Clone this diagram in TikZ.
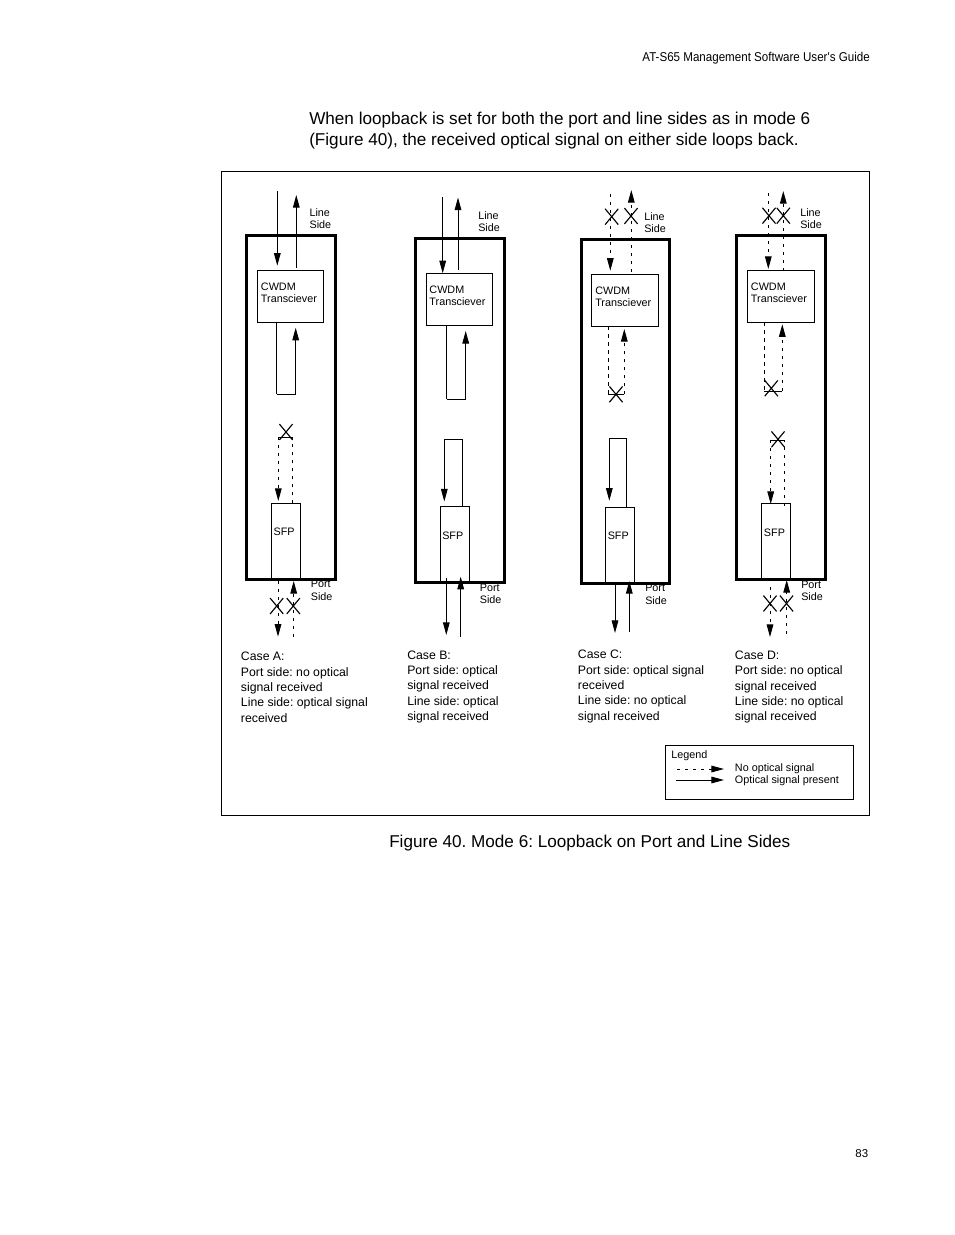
\documentclass[tikz,border=0pt]{standalone}
\usepackage{fontspec}
\setmainfont{Liberation Sans}
\newfontfamily\headfont[FakeStretch=0.905]{Liberation Sans}
\usetikzlibrary{arrows.meta, shapes.misc}
\frenchspacing

\begin{document}
\begin{tikzpicture}[x=0.75pt,y=-0.75pt]

% Define styles
\tikzstyle{shell}=[draw, line width=2.25pt, inner sep=0pt]
\tikzstyle{unit}=[draw, line width=0.7pt, inner sep=0pt]
\tikzstyle{frame}=[draw, line width=0.7pt, inner sep=0pt]
\tikzstyle{live}=[line width=0.7pt]
\tikzstyle{dead}=[line width=0.7pt, dash pattern=on 2.4pt off 3.6pt]
\tikzstyle{tip}=[-{Triangle[length=9.5pt,width=5pt]}]
\tikzstyle{blocked}=[cross out, draw, line width=0.85pt, inner sep=0pt, minimum width=9pt, minimum height=11pt]
\tikzstyle{tiny}=[inner sep=0pt, anchor=west, align=left, font=\fontsize{8.1}{9.4}\selectfont]
\tikzstyle{small}=[inner sep=0pt, anchor=west, align=left, font=\fontsize{9.2}{11.5}\selectfont]
\tikzstyle{body}=[inner sep=0pt, anchor=west, align=left, font=\fontsize{12.85}{15.9}\selectfont]

% Parameters
\def\px{0.75pt}

\useasboundingbox (0,0) rectangle (954,1235);

% Page text
\node[inner sep=0pt, anchor=east, font=\headfont\fontsize{9.6}{11}\selectfont] (header) at (870,58) {AT-S65 Management Software User's Guide};
\node[body] (intro) at (309,130.3) {When loopback is set for both the port and line sides as in mode 6\\(Figure 40), the received optical signal on either side loops back.};
\node[body] (caption) at (389,843) {Figure 40. Mode 6: Loopback on Port and Line Sides};
\node[inner sep=0pt, anchor=east, font=\fontsize{8.6}{11}\selectfont] (pageno) at (868.5,1154) {83};

% Outer frame and legend box
\foreach \nm/\xa/\ya/\xb/\yb in {outer/221.5/171.5/869.5/815.5, legend/665.3/745.3/853.7/799.3} {
  \node[frame, minimum width={(\xb-\xa)*\px}, minimum height={(\yb-\ya)*\px}] (\nm) at ({(\xa+\xb)/2},{(\ya+\yb)/2}) {};
}

% Case boxes
\foreach \nm/\xa/\ya/\xb/\yb in {A/246.7/235.5/335.4/579.3, B/415.3/238.3/504.4/582.3, C/581.3/239.3/669.7/583.3, D/736/235.5/825.7/579.3} {
  \node[shell, minimum width={(\xb-\xa)*\px}, minimum height={(\yb-\ya)*\px}] (shell\nm) at ({(\xa+\xb)/2},{(\ya+\yb)/2}) {};
}

% Transceivers
\foreach \nm/\xa/\ya/\xb/\yb/\tx/\ty in {A/257.3/270.3/323.7/322.3/260.7/292.7, B/426.3/273.3/492.7/325.3/429.2/295.7, C/591.3/274.3/658.7/326.3/595/296.7, D/747.3/270.3/814.3/322.3/750.7/292.7} {
  \node[unit, minimum width={(\xb-\xa)*\px}, minimum height={(\yb-\ya)*\px}] (cwdm\nm) at ({(\xa+\xb)/2},{(\ya+\yb)/2}) {};
  \node[tiny] (cwdmtext\nm) at (\tx,\ty) {CWDM\\Transciever};
}

% SFP modules
\foreach \nm/\xa/\ya/\xb/\yb/\tx/\ty in {A/271.3/503.3/300.7/579.3/273.3/532, B/440.3/506.3/469.3/582.3/442/535.5, C/605.3/507.3/634.3/583.3/607.5/535.5, D/761.3/503.3/790.3/579.3/763.7/532.5} {
  \node[unit, minimum width={(\xb-\xa)*\px}, minimum height={(\yb-\ya)*\px}] (sfp\nm) at ({(\xa+\xb)/2},{(\ya+\yb)/2}) {};
  \node[tiny] (sfptext\nm) at (\tx,\ty) {SFP};
}

% Side labels
\foreach \nm/\lx/\ly/\rx/\ry in {A/309.3/218.5/310.6/590.5, B/478/221.5/479.6/594, C/644/222.5/645/594.5, D/800/218.5/801/590.8} {
  \node[tiny] (linetext\nm) at (\lx,\ly) {Line\\Side};
  \node[tiny] (porttext\nm) at (\rx,\ry) {Port\\Side};
}

% Straight signals
\foreach \nm/\x/\ys/\ye/\sty in {
  Aa/277.3/191/265.7/live, Ab/296.3/267.7/195/live, Ac/278/581/636.7/dead, Ad/293.7/636.7/581/dead,
  Ba/442.7/197/273.3/live, Bb/458/270/197.5/live, Bc/446.3/578/635/live, Bd/460.7/636.7/576.7/live,
  Ca/610.3/194/270.7/dead, Cb/631.3/272/190/dead, Cc/615/583.3/633/live, Cd/629.3/631.7/581/live,
  Da/768.3/193/269/dead, Db/783.3/271/191/dead, Dc/770/586.7/637/dead, Dd/786.7/634/580/dead} {
  \coordinate (\nm s) at (\x,\ys);
  \coordinate (\nm e) at (\x,\ye);
  \draw[\sty, tip] (\nm s) -- (\nm e);
}

% Loops
\foreach \nm/\xs/\ys/\xe/\ye/\yc/\sty in {
  Aup/276.7/322.3/295.7/327.7/394.3/live, Alow/292.7/503.3/278.3/501/437/dead,
  Bup/446.7/325.3/465.7/331/399.3/live, Blow/462.7/506.3/444.3/501.5/439/live,
  Cup/608.3/326.3/624.3/329/394.3/dead, Clow/626.7/507.3/609.3/500.7/438.3/live,
  Dup/764.3/322.3/782.3/324.3/391/dead, Dlow/784.3/506/770.7/504/440/dead} {
  \coordinate (\nm s) at (\xs,\ys);
  \coordinate (\nm a) at (\xs,\yc);
  \coordinate (\nm b) at (\xe,\yc);
  \coordinate (\nm e) at (\xe,\ye);
  \draw[\sty] (\nm s) -- (\nm a);
  \draw[live] (\nm a) -- (\nm b);
  \draw[\sty, tip] (\nm b) -- (\nm e);
}

% Blocked points
\foreach \nm/\x/\y in {
  Ax/286/432, Ay/276.7/606, Az/293.3/606,
  Cx/611.7/216.7, Cy/631/216, Cz/616/394.3,
  Dt/769/215.7, Du/783.3/215.7, Dv/771.3/388.3, Dw/778/439.3, Dx/770/603.5, Dy/786.5/603.5} {
  \node[blocked] (stop\nm) at (\x,\y) {};
}

% Case texts
\node[small] (caseA) at (240.7,687.3) {Case A:\\Port side: no optical\\signal received\\Line side: optical signal\\received};
\node[small] (caseB) at (407,686.8) {Case B:\\Port side: optical\\signal received\\Line side: optical\\signal received};
\node[small] (caseC) at (577.7,686.5) {Case C:\\Port side: optical signal\\received\\Line side: no optical\\signal received};
\node[small] (caseD) at (734.7,687.3) {Case D:\\Port side: no optical\\signal received\\Line side: no optical\\signal received};

% Legend
\node[tiny] (legendtitle) at (671,756) {Legend};
\coordinate (deadfrom) at (677,769);
\coordinate (deadto) at (724,769);
\coordinate (livefrom) at (676,780);
\coordinate (liveto) at (724,780);
\draw[dead, tip] (deadfrom) -- (deadto);
\draw[live, tip] (livefrom) -- (liveto);
\node[tiny] (deadtext) at (734.7,769) {No optical signal};
\node[tiny] (livetext) at (734.7,781) {Optical signal present};

\end{tikzpicture}
\end{document}
